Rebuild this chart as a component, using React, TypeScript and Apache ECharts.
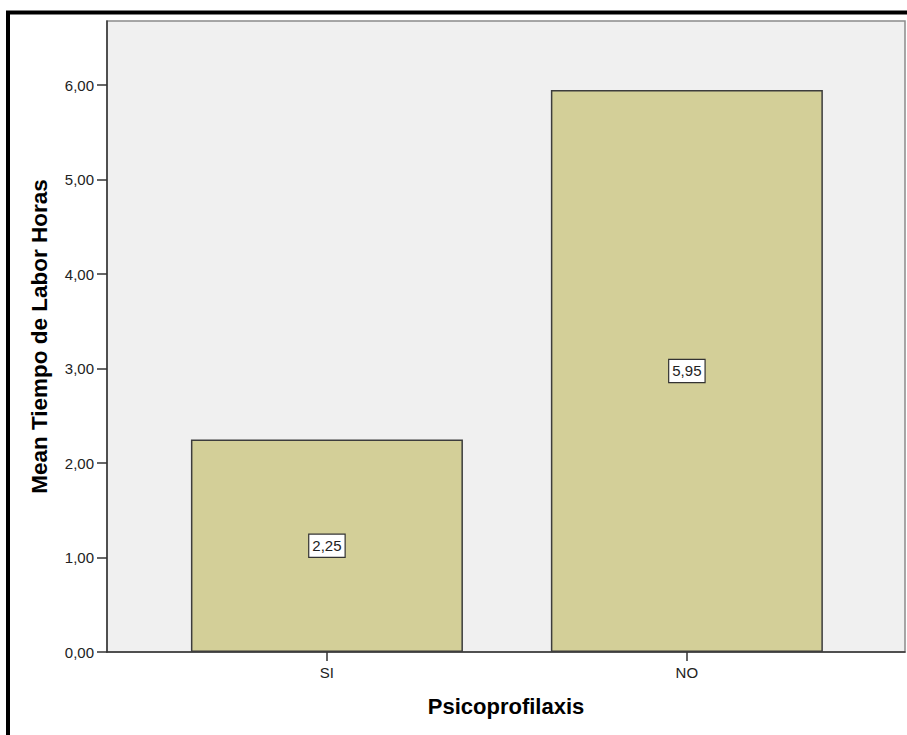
import React, { useEffect, useRef } from "react";
import * as echarts from "echarts";

const categories = ["SI", "NO"];
const means = [2.25, 5.95];
const yTicks = [0, 1, 2, 3, 4, 5, 6];
const xTitle = "Psicoprofilaxis";
const yTitle = "Mean Tiempo de Labor Horas";

const fmt = (v: number) => v.toFixed(2).replace(".", ",");

export default function App() {
  const ref = useRef<HTMLDivElement>(null);
  useEffect(() => {
    if (!ref.current) return;
    const chart = echarts.init(ref.current, null, { renderer: "svg" });
    const positions = categories.map((_, i) => i);
    chart.setOption({
      animation: false,
      textStyle: { fontFamily: "Liberation Sans, Arial, sans-serif" },
      graphic: [
        {
          type: "rect",
          shape: { x: 8, y: 12.5, width: 1200, height: 1200 },
          style: { fill: "none", stroke: "#000", lineWidth: 4 },
          z: 100,
        },
      ],
      grid: {
        left: 107,
        top: 21,
        right: 2,
        bottom: 83,
        show: true,
        backgroundColor: "#f0f0f0",
        borderColor: "#8a8a8a",
        borderWidth: 1.5,
      },
      xAxis: {
        type: "value",
        min: -0.611,
        max: 1.606,
        name: xTitle,
        nameLocation: "middle",
        nameGap: 43,
        nameTextStyle: { fontSize: 22, fontWeight: "bold", color: "#000" },
        axisLine: { show: true, onZero: false, lineStyle: { color: "#333", width: 1.5 } },
        axisTick: { show: true, length: 9, customValues: positions, lineStyle: { color: "#333", width: 1.5 } },
        axisLabel: {
          customValues: positions,
          formatter: (v: number) => categories[Math.round(v)] ?? "",
          fontSize: 15,
          color: "#222",
          margin: 13,
        },
        splitLine: { show: false },
      },
      yAxis: {
        type: "value",
        min: 0,
        max: 6.68,
        name: yTitle,
        nameLocation: "middle",
        nameGap: 56,
        nameRotate: 90,
        nameTextStyle: { fontSize: 22.5, fontWeight: "bold", color: "#000" },
        axisLine: { show: true, onZero: false, lineStyle: { color: "#333", width: 1.5 } },
        axisTick: { show: true, length: 10, customValues: yTicks, lineStyle: { color: "#333", width: 1.5 } },
        axisLabel: {
          customValues: yTicks,
          formatter: (v: number) => fmt(v),
          fontSize: 15,
          color: "#222",
          margin: 13,
        },
        splitLine: { show: false },
      },
      series: [
        {
          type: "bar",
          data: categories.map((_, i) => [i, means[i]]),
          barWidth: 272,
          itemStyle: { color: "#d3cf98", borderColor: "#3d3d3d", borderWidth: 1.5 },
          label: {
            show: true,
            position: "inside",
            formatter: (p: any) => fmt(p.value[1]),
            fontSize: 15,
            color: "#222",
            backgroundColor: "#fff",
            borderColor: "#333",
            borderWidth: 1.2,
            padding: [4, 3, 3, 3],
          },
        },
      ],
    });
    return () => chart.dispose();
  }, []);
  return (
    <div
      ref={ref}
      style={{ position: "absolute", left: 0, top: 0, width: 907, height: 735, background: "#fff" }}
    />
  );
}
